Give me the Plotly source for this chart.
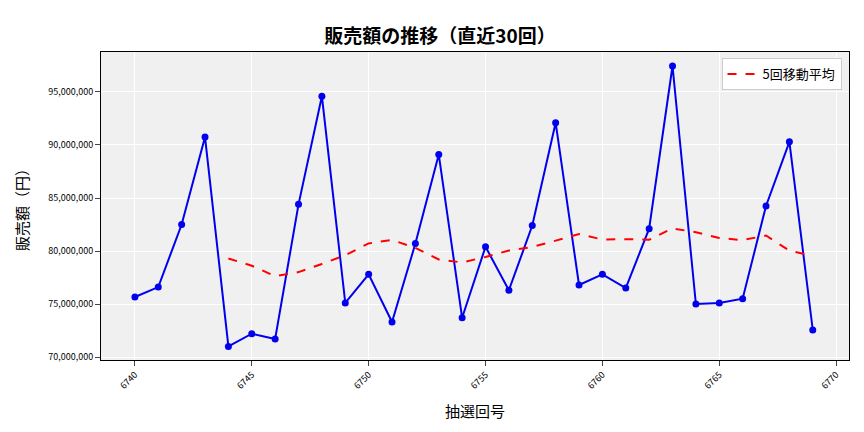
import plotly.graph_objects as go

draws = list(range(6740, 6770))
sales = [75.66, 76.6, 82.5, 90.75, 71.0, 72.2, 71.7, 84.4, 94.6, 75.1,
         77.8, 73.3, 80.7, 89.1, 73.7, 80.4, 76.3, 82.4, 92.1, 76.8,
         77.8, 76.5, 82.1, 97.45, 75.0, 75.1, 75.5, 84.25, 90.3, 72.55]
sales = [v * 1e6 for v in sales]
ma_draws = list(range(6744, 6770))
ma5 = [79.30, 78.61, 77.63, 78.01, 78.78, 79.6, 80.72, 81.04, 80.3, 79.2,
       78.92, 79.44, 80.04, 80.38, 80.98, 81.6, 81.08, 81.12, 81.06, 82.13,
       81.77, 81.23, 81.03, 81.46, 80.03, 79.54]
ma5 = [v * 1e6 for v in ma5]
yticks = [70e6, 75e6, 80e6, 85e6, 90e6, 95e6]

font = "Noto Sans CJK JP"
fig = go.Figure()
fig.add_trace(go.Scatter(x=draws, y=sales, mode="lines+markers", showlegend=False,
                         line=dict(color="#0000ee", width=2),
                         marker=dict(color="#0000ee", size=7)))
fig.add_trace(go.Scatter(x=ma_draws, y=ma5, mode="lines", name="5回移動平均",
                         line=dict(color="red", width=2, dash="dash")))

fig.update_layout(
    width=864, height=432,
    margin=dict(l=93, r=23, t=44, b=80),
    paper_bgcolor="white", plot_bgcolor="#f0f0f0",
    font=dict(family=font, color="black"),
    title=dict(text="<b>販売額の推移（直近30回）</b>", x=0.5, xanchor="center", y=0.95,
               font=dict(size=19)),
    legend=dict(x=0.99, y=0.98, xanchor="right", yanchor="top",
                bgcolor="white", bordercolor="#cccccc", borderwidth=1,
                font=dict(size=13)),
)
fig.update_xaxes(range=[6738.55, 6770.55], tickvals=list(range(6740, 6771, 5)),
                 tickangle=-45, tickfont=dict(size=9), gridcolor="white",
                 showline=True, linecolor="black", mirror=True, ticks="outside",
                 title=dict(text="抽選回号", font=dict(size=15)))
fig.update_yaxes(range=[69.72e6, 98.77e6], tickvals=yticks,
                 ticktext=[f"{int(v):,}" for v in yticks], tickfont=dict(size=9),
                 gridcolor="white", showline=True, linecolor="black", mirror=True,
                 ticks="outside", zeroline=False,
                 title=dict(text="販売額（円）", font=dict(size=15)))

fig.write_html("out.html")
